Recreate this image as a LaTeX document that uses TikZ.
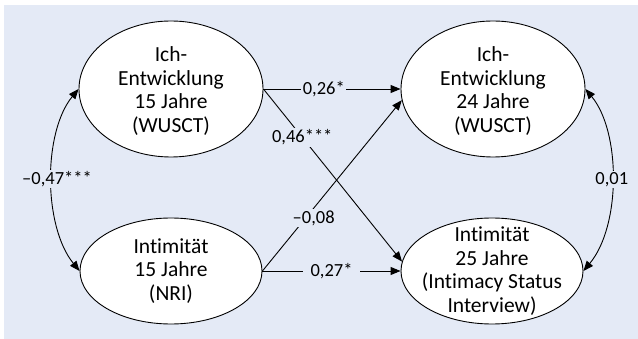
\documentclass[tikz,border=0pt]{standalone}
\usepackage{fontspec}
\setmainfont{Carlito}[Ligatures=NoCommon]
\usetikzlibrary{arrows.meta,shapes.geometric}
\definecolor{bg}{RGB}{228,234,246}
\begin{document}
\begin{tikzpicture}[x=1pt,y=-1pt,
  latent/.style={ellipse, draw, fill=white, line width=0.9pt, inner sep=0pt},
  ltext/.style={align=center, inner sep=0pt, font=\fontsize{21.5}{23.5}\selectfont},
  effect/.style={line width=0.9pt, -{Triangle[length=10pt,width=8pt]}},
  corr/.style={line width=0.9pt, {Triangle[length=10pt,width=8pt]}-{Triangle[length=10pt,width=8pt]}},
  coef/.style={fill=bg, inner sep=1.5pt, font=\fontsize{18.5}{20}\selectfont}]
\useasboundingbox (0,0) rectangle (638,339);
\fill[bg] (4,5) rectangle (638,339);
% latent variables
\node[latent, minimum width=184pt, minimum height=136pt] (tl) at (171,89) {};
\node[latent, minimum width=184pt, minimum height=136pt] (tr) at (493,89) {};
\node[latent, minimum width=182pt, minimum height=106pt] (bl) at (171,271) {};
\node[latent, minimum width=182pt, minimum height=106pt] (br) at (492,271) {};
\node[ltext] (tlt) at ([yshift=-2pt]tl.center) {Ich-\\Entwicklung\\15 Jahre\\(WUSCT)};
\node[ltext] (trt) at ([yshift=-2pt]tr.center) {Ich-\\Entwicklung\\24 Jahre\\(WUSCT)};
\node[ltext] (blt) at (bl.center) {Intimität\\15 Jahre\\(NRI)};
\node[ltext] (brt) at (br.center) {Intimität\\25 Jahre\\(Intimacy Status\\Interview)};
% paths
\draw[effect] (tl.east) -- node[coef, pos=0.44] {0,26*} (tr.west);
\draw[effect] (tl.east) -- node[coef, pos=0.28] {0,46***} (br.174);
\draw[effect] (bl.east) -- node[coef, pos=0.31, xshift=8pt] {–0,08} (tr.187);
\draw[effect] (bl.east) -- node[coef, pos=0.5, inner xsep=8pt] {0,27*} (br.west);
% correlations
\draw[corr] (tl.west) .. controls (43,132) and (43,226) .. (bl.west)
  node[coef, midway, xshift=5pt] {–0,47***};
\draw[corr] (tr.east) .. controls (621,132) and (621,226) .. (br.east)
  node[coef, midway] {0,01};
\end{tikzpicture}
\end{document}
